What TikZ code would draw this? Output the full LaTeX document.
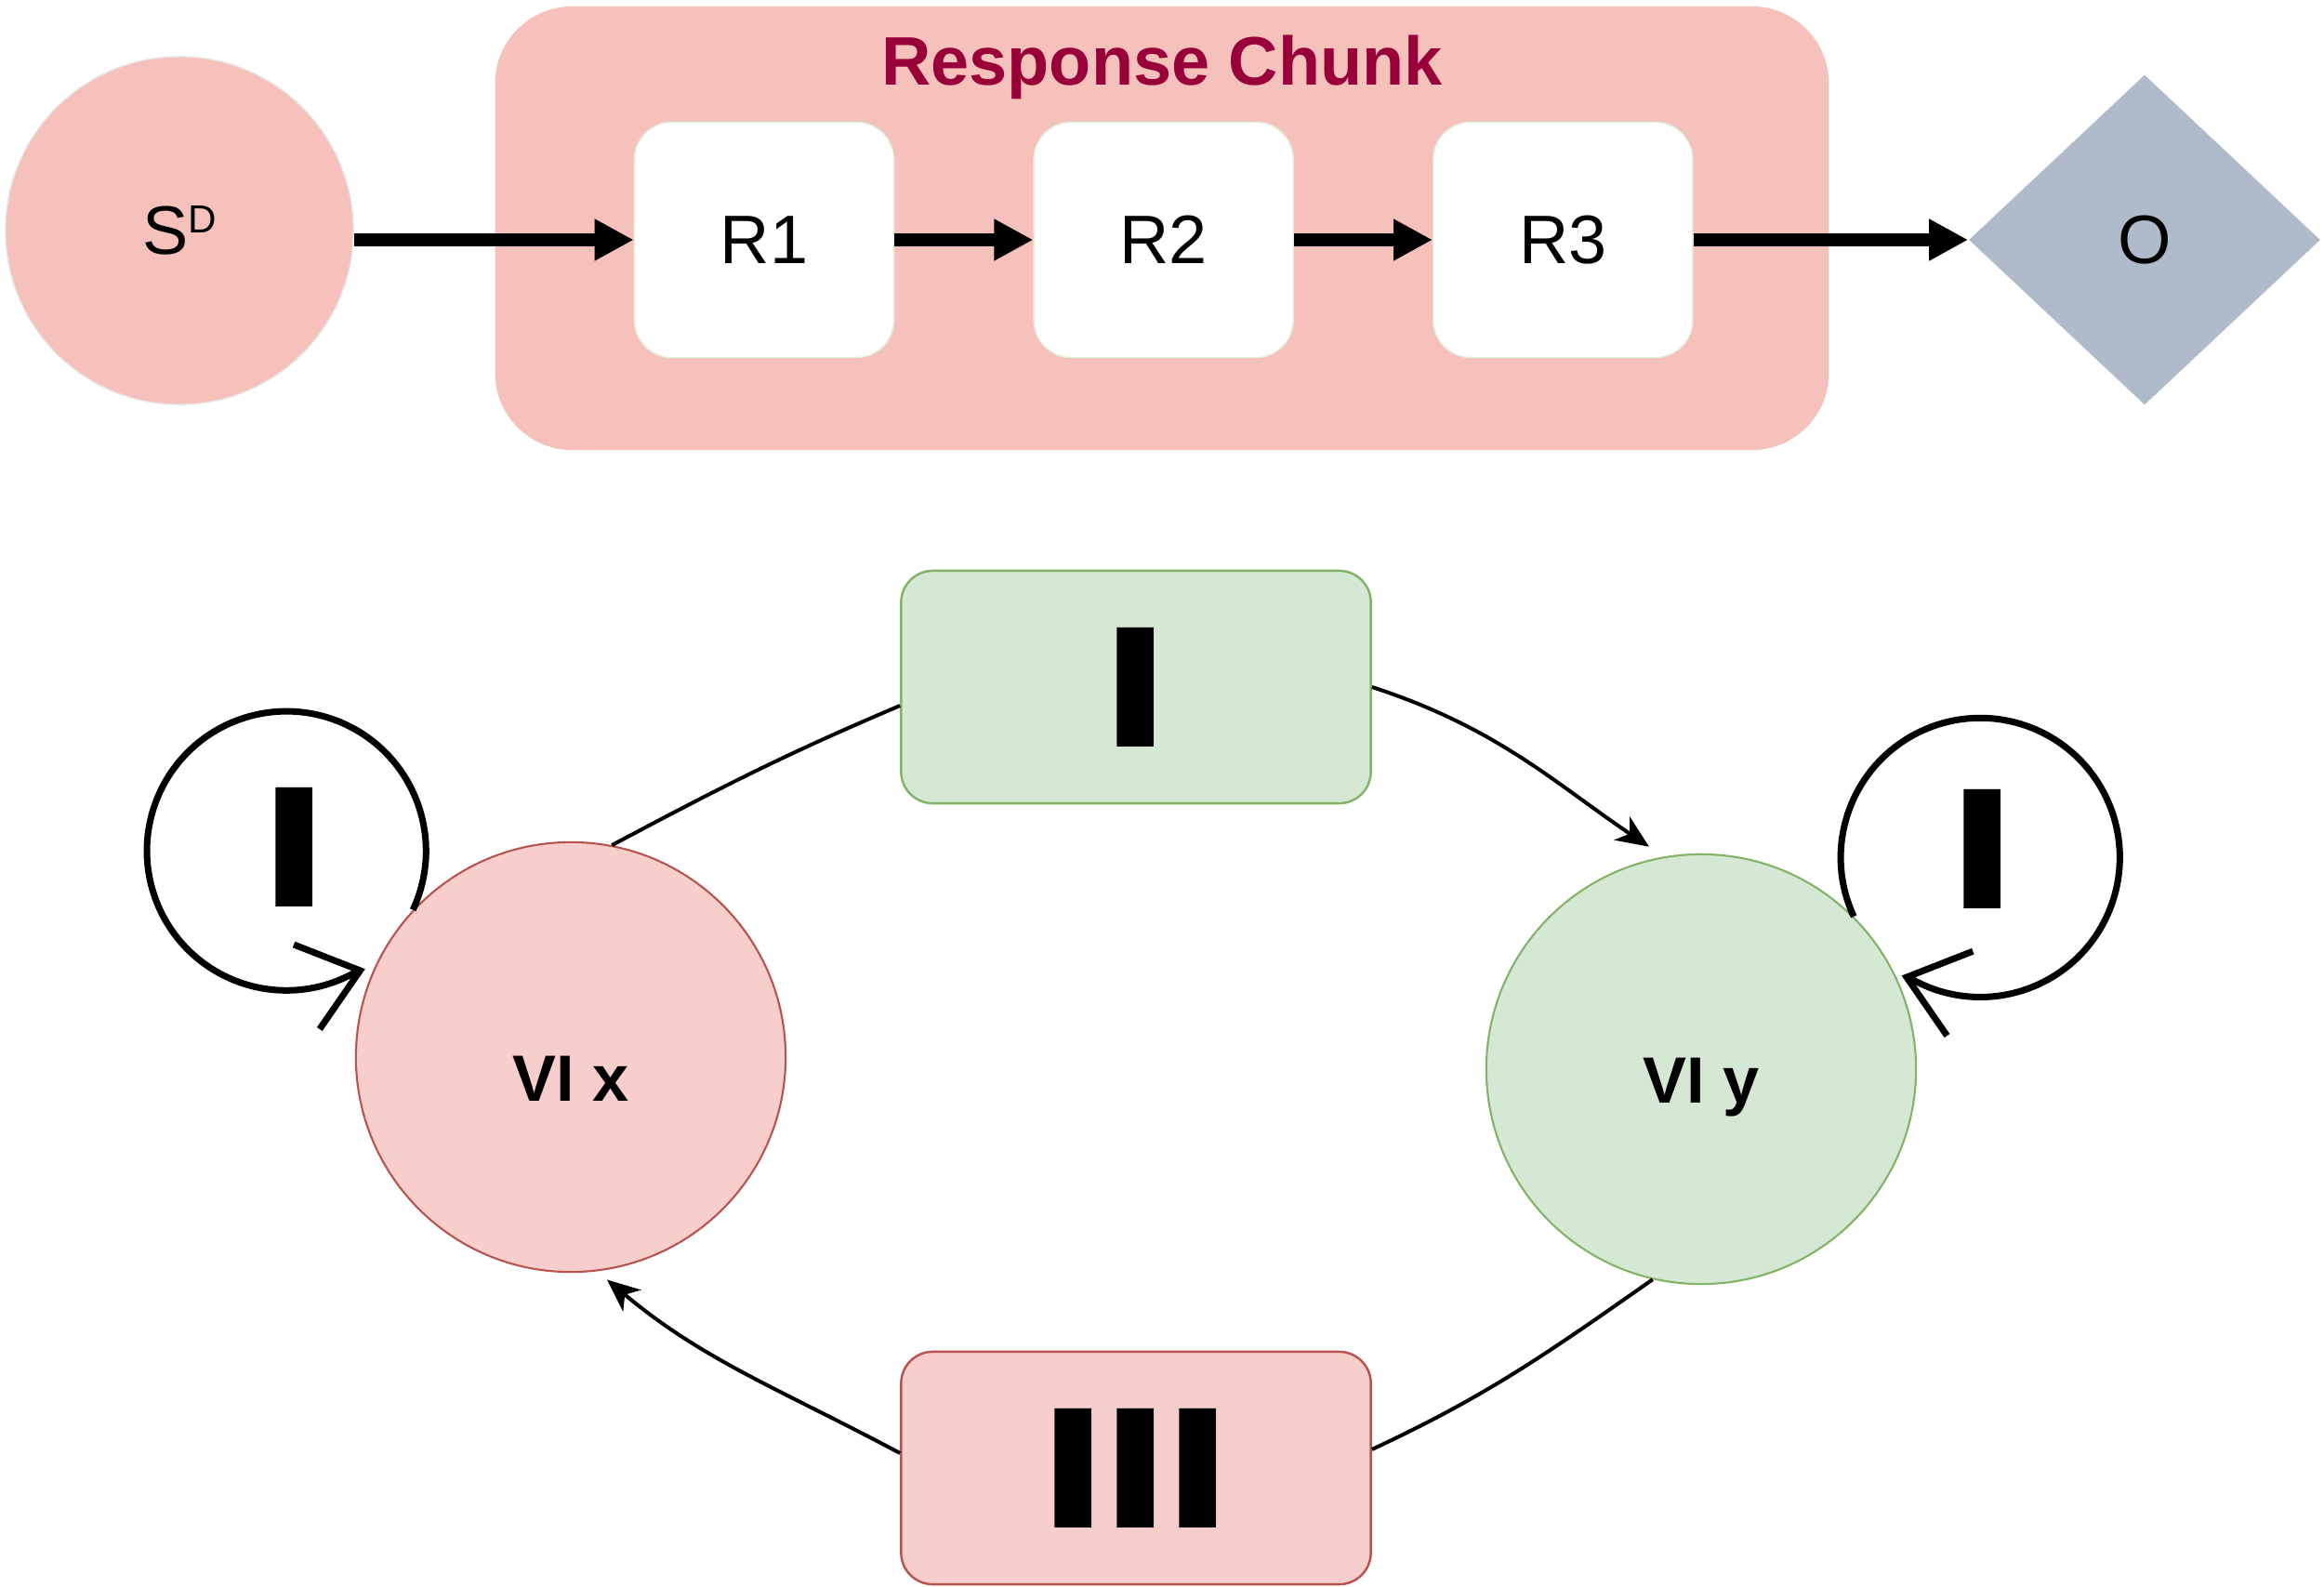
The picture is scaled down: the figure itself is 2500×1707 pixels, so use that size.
\documentclass[tikz,border=0pt]{standalone}
\usepackage{fontspec}
\setmainfont{Liberation Sans}
\newfontfamily\numeralfont{DejaVu Sans}
\usepackage{graphicx}
\usepackage{tikz}
\usetikzlibrary{arrows.meta, shapes.geometric, positioning}
\definecolor{chunkpink}{HTML}{F6C1BB}
\definecolor{chunkred}{HTML}{99003A}
\definecolor{boxline}{HTML}{E2EDDC}
\definecolor{outgray}{HTML}{AFBACB}
\definecolor{vigreen}{HTML}{D5E8D4}
\definecolor{vigreenline}{HTML}{82B366}
\definecolor{vipink}{HTML}{F8CECC}
\definecolor{vipinkline}{HTML}{B85450}
% heavy roman numerals
\newcommand{\heavynum}[1]{\scalebox{1.2}[1]{#1}}

\begin{document}
\begin{tikzpicture}[x=0.01cm, y=0.01cm]
  \tikzset{
    bigarrow/.style={-{Triangle[length=4.2mm, width=4.2mm]}, line width=1.4mm},
    rbox/.style={draw=boxline, fill=white, rounded corners=4mm, minimum width=2.79cm,
      minimum height=2.53cm, font=\fontsize{21}{25}\selectfont},
    vinode/.style={circle, minimum size=4.62cm, line width=0.6pt, text depth=0pt,
      font=\bfseries\fontsize{20}{24}\selectfont},
    rulebox/.style={rounded corners=3.4mm, minimum width=5.05cm, minimum height=2.5cm, line width=0.7pt,
      font=\numeralfont\bfseries\fontsize{50}{50}\selectfont},
    numeral/.style={font=\numeralfont\bfseries\fontsize{50}{50}\selectfont},
    vicurve/.style={line width=0.4mm},
    viarrow/.style={vicurve, -{Stealth[length=3.5mm, width=3mm, inset=1mm]}},
    selfloop/.style={line width=0.7mm, -{Straight Barb[length=6mm, width=9.5mm]}},
  }
  \useasboundingbox (0,0) rectangle (2500,-1707);

  % Response chunk (top row)
  \node[fill=chunkpink, rounded corners=8.3mm, minimum width=14.34cm, minimum height=4.77cm] (chunk) at (1250,-245.5) {};
  \node[font=\bfseries\fontsize{21}{25}\selectfont, text=chunkred, anchor=base] (chunktitle) at (1250,-92) {Response Chunk};

  \node[circle, fill=chunkpink, draw=black!10, minimum size=3.74cm, font=\fontsize{21}{25}\selectfont]
    (sd) at (193,-248) {S\raisebox{6.4pt}{\fontsize{12}{12}\selectfont D}};
  \node[rbox] (r1) at (822,-258) {R1};
  \node[rbox, right=1.49cm of r1] (r2) {R2};
  \node[rbox, right=1.49cm of r2] (r3) {R3};
  \node[diamond, fill=outgray, minimum width=3.78cm, minimum height=3.55cm, font=\fontsize{21}{25}\selectfont]
    (out) at (2307,-258) {O};

  \draw[bigarrow] (sd.east |- r1.west) -- (r1.west);
  \draw[bigarrow] (r1) -- (r2);
  \draw[bigarrow] (r2) -- (r3);
  \draw[bigarrow] (r3) -- (out);

  % Verbal interactions (bottom)
  \node[vinode, fill=vipink, draw=vipinkline, text height=0.94cm] (vix) at (614,-1137) {VI x};
  \node[vinode, fill=vigreen, draw=vigreenline, text height=0.73cm] (viy) at (1830,-1150) {VI y};
  \node[rulebox, fill=vigreen, draw=vigreenline] (one) at (1222,-739) {\heavynum{I}};
  \node[rulebox, fill=vipink, draw=vipinkline] (three) at (1222,-1579)
    {\heavynum{I\kern-.055em I\kern-.055em I}};

  % self loops
  \draw[selfloop] (vix.137) arc[start angle=-25, end angle=300, radius=1.5cm] -- ++(17:1mm);
  \node[numeral] (loopx) at (317,-911) {\heavynum{I}};
  \draw[selfloop] (viy.45) arc[start angle=205, end angle=-120, radius=1.5cm] -- ++(163:1mm);
  \node[numeral] (loopy) at (2133,-913) {\heavynum{I}};

  % curved links through the rule boxes
  \draw[vicurve] (vix.79) to[out=28, in=203] ([yshift=-2mm]one.west);
  \draw[viarrow, shorten >=1.9mm] (one.east) to[out=-18, in=146] (viy.100);
  \draw[vicurve] (viy.257) to[out=215, in=25] ([yshift=2mm]three.east);
  \draw[viarrow, shorten >=1.4mm] ([yshift=1.6mm]three.west) to[out=152, in=-40] (vix.277);
\end{tikzpicture}
\end{document}
